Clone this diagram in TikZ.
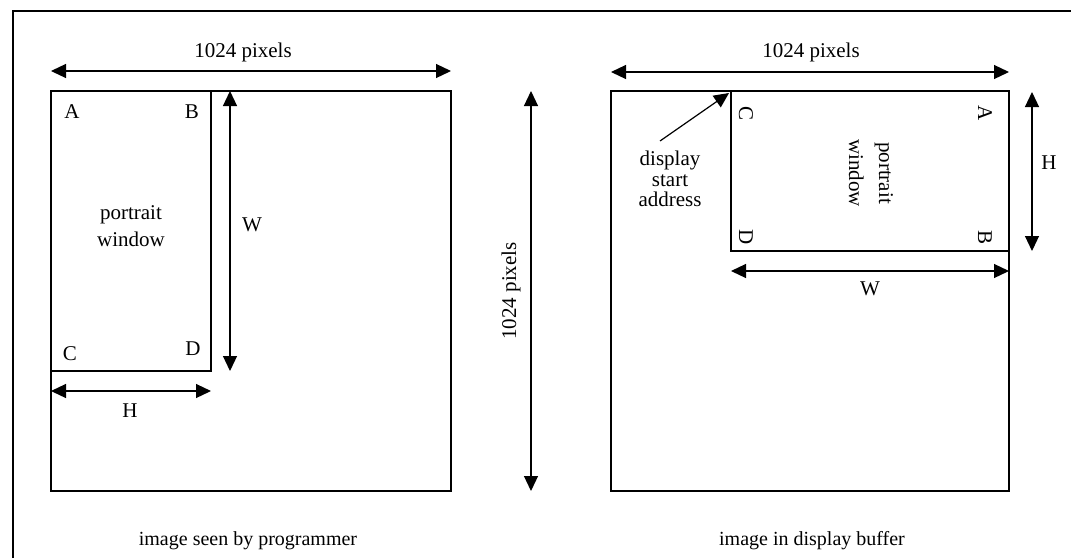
\documentclass[tikz,border=0pt]{standalone}
\usepackage{fontspec}
\setmainfont{Liberation Serif}
\usetikzlibrary{arrows.meta,positioning}

\tikzset{
  box/.style={draw, line width=0.6pt},
  dimarrow/.style={line width=0.6pt, {Triangle[length=7.5pt,width=7pt]}-{Triangle[length=7.5pt,width=7pt]}},
  ptrarrow/.style={line width=0.6pt, -{Triangle[length=7.5pt,width=7pt]}},
  lbl/.style={inner sep=0pt, font=\fontsize{10.5}{12}\selectfont},
  caption/.style={inner sep=0pt, font=\fontsize{10}{12}\selectfont},
}

\begin{document}
\begin{tikzpicture}[x=0.5pt,y=-0.5pt]
    \useasboundingbox (0,0) rectangle (1071,558);
    \draw[line width=0.6pt] (13,558) -- (13,11) -- (1071,11);
    % image seen by programmer
    \coordinate(prog0) at (51,91);
    \coordinate(prog1) at (451,491);
    \coordinate(progwin) at (211,371);
    \draw[box](prog0) rectangle (prog1);
    \draw[box](prog0) rectangle (progwin);
    \node(progA)[lbl] at (72,112){A};
    \node(progB)[lbl] at (192,112){B};
    \node(progC)[lbl] at (70,354){C};
    \node(progD)[lbl] at (193,349){D};
    \node(progname)[lbl, align=center, font=\fontsize{10.5}{13.5}\selectfont] at (131,226){portrait\\window};
    \coordinate(progtop0) at (51,71);
    \coordinate(progtop1) at (451,71);
    \draw[dimarrow](progtop0) -- (progtop1);
    \node(progwidth)[lbl] at (243,52){1024 pixels};
    \coordinate(progW0) at (230,91);
    \coordinate(progW1) at (230,371);
    \draw[dimarrow](progW0) -- (progW1);
    \node(progWl)[lbl] at (252,225){W};
    \coordinate(progH0) at (51,391);
    \coordinate(progH1) at (211,391);
    \draw[dimarrow](progH0) -- (progH1);
    \node(progHl)[lbl] at (130,411){H};
    \coordinate(side0) at (531,91);
    \coordinate(side1) at (531,491);
    \draw[dimarrow](side0) -- (side1);
    \node(sidel)[lbl, rotate=90] at (511,291){1024 pixels};
    \node(progcap)[caption] at (248,541){image seen by programmer};
    % image in display buffer
    \coordinate(buf0) at (611,91);
    \coordinate(buf1) at (1009,491);
    \coordinate(bufwin) at (731,91);
    \coordinate(bufwin1) at (1009,251);
    \draw[box](buf0) rectangle (buf1);
    \draw[box](bufwin) rectangle (bufwin1);
    \node(bufC)[lbl, rotate=-90] at (746,113){C};
    \node(bufA)[lbl, rotate=-90] at (985,113){A};
    \node(bufD)[lbl, rotate=-90] at (746,237){D};
    \node(bufB)[lbl, rotate=-90] at (985,237){B};
    \node(bufname)[lbl, rotate=-90, align=center, font=\fontsize{10.5}{15}\selectfont] at (871,173){portrait\\window};
    \coordinate(buftop0) at (611,72);
    \coordinate(buftop1) at (1009,72);
    \draw[dimarrow](buftop0) -- (buftop1);
    \node(bufwidth)[lbl] at (811,52){1024 pixels};
    \coordinate(bufH0) at (1032,92);
    \coordinate(bufH1) at (1032,251);
    \draw[dimarrow](bufH0) -- (bufH1);
    \node(bufHl)[lbl] at (1049,163){H};
    \coordinate(bufW0) at (731,271);
    \coordinate(bufW1) at (1009,271);
    \draw[dimarrow](bufW0) -- (bufW1);
    \node(bufWl)[lbl] at (870,289){W};
    \node(start)[lbl, align=center, font=\fontsize{10.5}{10.3}\selectfont] at (670,179){display\\start\\address};
    \coordinate(startfrom) at (660,141);
    \coordinate(starttip) at (729,93);
    \draw[ptrarrow](startfrom) -- (starttip);
    \node(bufcap)[caption] at (812,541){image in display buffer};
\end{tikzpicture}
\end{document}
